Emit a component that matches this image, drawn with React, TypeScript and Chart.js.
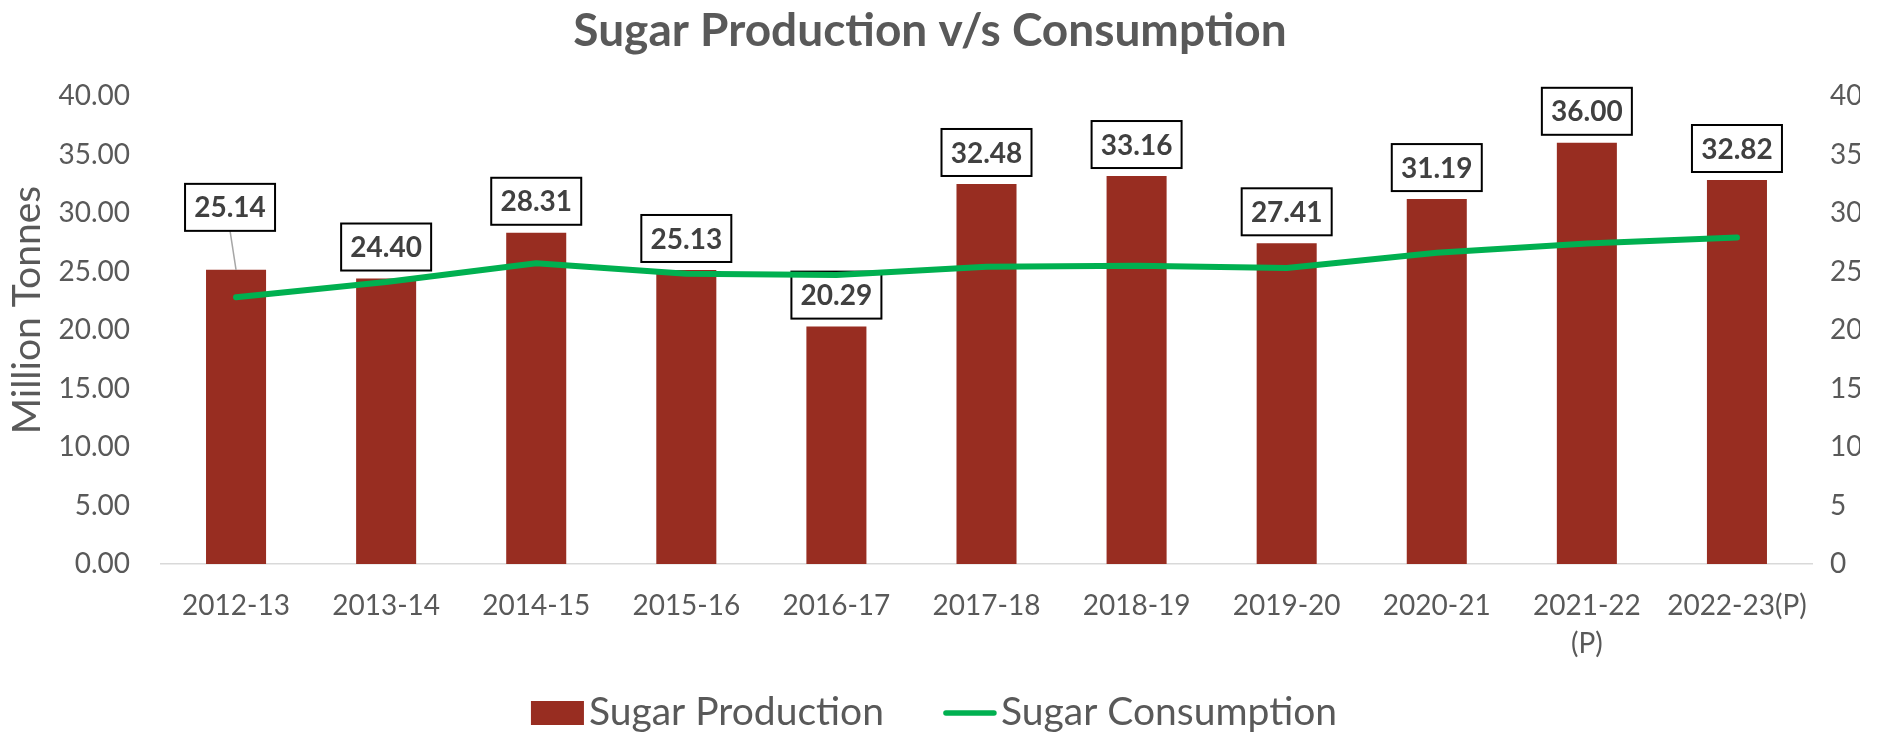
import React, { useEffect, useRef } from 'react';
import { Chart, registerables } from 'chart.js';

Chart.register(...registerables);

const seasons = ['2012-13', '2013-14', '2014-15', '2015-16', '2016-17', '2017-18', '2018-19', '2019-20', '2020-21', '2021-22\n(P)', '2022-23(P)'];
const production = [25.14, 24.40, 28.31, 25.13, 20.29, 32.48, 33.16, 27.41, 31.19, 36.00, 32.82];
const consumption = [22.8, 24.1, 25.7, 24.8, 24.7, 25.4, 25.5, 25.3, 26.6, 27.4, 27.9];
const axisMin = 0;
const axisMax = 40;
const axisStep = 5;

const TITLE = 'Sugar Production v/s Consumption';
const Y_TITLE = 'Million Tonnes';
const BAR_COLOR = '#982D21';
const LINE_COLOR = '#00B050';
const TEXT_COLOR = '#595959';
const FONT = 'Lato';

export default function App() {
  const ref = useRef<HTMLCanvasElement>(null);

  useEffect(() => {
    document.body.style.margin = '0';
    const canvas = ref.current;
    if (!canvas) return;

    const barLabels = {
      id: 'barLabels',
      afterDatasetDraw(chart: any, args: any) {
        if (args.index !== 0) return;
        const ctx = chart.ctx;
        ctx.save();
        args.meta.data.forEach((bar: any, i: number) => {
          const lifted = i === 0;
          const cx = bar.x + (lifted ? -6 : 0);
          const bottom = bar.y - (lifted ? 39 : 8);
          const w = 90;
          const h = 47;
          if (lifted) {
            ctx.strokeStyle = '#A6A6A6';
            ctx.lineWidth = 1.5;
            ctx.beginPath();
            ctx.moveTo(cx, bottom);
            ctx.lineTo(bar.x, bar.y);
            ctx.stroke();
          }
          ctx.fillStyle = '#FFFFFF';
          ctx.fillRect(cx - w / 2, bottom - h, w, h);
          ctx.lineWidth = 2;
          ctx.strokeStyle = '#000000';
          ctx.strokeRect(cx - w / 2, bottom - h, w, h);
          ctx.font = `bold 28px ${FONT}`;
          ctx.fillStyle = '#404040';
          ctx.textAlign = 'center';
          ctx.textBaseline = 'middle';
          ctx.fillText(production[i].toFixed(2), cx, bottom - h / 2 + 1);
        });
        ctx.restore();
      },
    };

    const axisTitle = {
      id: 'axisTitle',
      afterDraw(chart: any) {
        const ctx = chart.ctx;
        const area = chart.chartArea;
        ctx.save();
        ctx.translate(27.5, (area.top + area.bottom) / 2 - 20);
        ctx.rotate(-Math.PI / 2);
        ctx.font = `39px ${FONT}`;
        ctx.fillStyle = TEXT_COLOR;
        ctx.textAlign = 'center';
        ctx.textBaseline = 'middle';
        ctx.fillText(Y_TITLE, 0, 0);
        ctx.restore();
      },
    };

    const customLegend = {
      id: 'customLegend',
      afterDraw(chart: any) {
        const ctx = chart.ctx;
        const ds = chart.data.datasets;
        ctx.save();
        ctx.font = `39px ${FONT}`;
        const t1 = ctx.measureText(ds[0].label).width;
        const t2 = ctx.measureText(ds[1].label).width;
        const total = 53 + 5 + t1 + 59 + 54 + 4 + t2;
        let x = 934 - total / 2;
        const yMid = 713;
        ctx.fillStyle = ds[0].backgroundColor;
        ctx.fillRect(x, yMid - 12, 53, 24);
        x += 58;
        ctx.fillStyle = TEXT_COLOR;
        ctx.textAlign = 'left';
        ctx.textBaseline = 'alphabetic';
        ctx.fillText(ds[0].label, x, 725);
        x += t1 + 59;
        ctx.strokeStyle = ds[1].borderColor;
        ctx.lineWidth = 5.5;
        ctx.lineCap = 'round';
        ctx.beginPath();
        ctx.moveTo(x + 3, yMid);
        ctx.lineTo(x + 51, yMid);
        ctx.stroke();
        x += 58;
        ctx.fillText(ds[1].label, x, 725);
        ctx.restore();
      },
    };

    const chart = new Chart(canvas, {
      type: 'bar',
      data: {
        labels: seasons.map((s) => s.split('\n')),
        datasets: [
          {
            type: 'bar',
            label: 'Sugar Production',
            data: production,
            backgroundColor: BAR_COLOR,
            borderWidth: 0,
            categoryPercentage: 1,
            barPercentage: 0.4,
            yAxisID: 'y',
            order: 1,
          },
          {
            type: 'line',
            label: 'Sugar Consumption',
            data: consumption,
            borderColor: LINE_COLOR,
            backgroundColor: LINE_COLOR,
            borderWidth: 6,
            pointRadius: 0,
            tension: 0,
            borderCapStyle: 'round',
            borderJoinStyle: 'round',
            yAxisID: 'y1',
            order: 0,
          } as any,
        ],
      },
      options: {
        responsive: false,
        animation: false,
        devicePixelRatio: 1,
        layout: { padding: { top: 0, left: 0, right: 18, bottom: 69 } },
        plugins: {
          legend: { display: false },
          tooltip: { enabled: false },
          title: {
            display: true,
            text: TITLE,
            color: TEXT_COLOR,
            font: { family: FONT, size: 46, weight: 'bold' },
            padding: { top: 4, bottom: 36.8 },
          },
        },
        scales: {
          x: {
            grid: { display: false, drawTicks: false },
            border: { display: true, color: '#D9D9D9', width: 1.5 },
            ticks: {
              color: TEXT_COLOR,
              font: { family: FONT, size: 28, lineHeight: 1.36 },
              padding: 23,
              maxRotation: 0,
              autoSkip: false,
            },
            afterFit: (s: any) => { s.height = 100; },
          },
          y: {
            position: 'left',
            min: axisMin,
            max: axisMax,
            grid: { display: false, drawTicks: false },
            border: { display: false },
            ticks: {
              stepSize: axisStep,
              color: TEXT_COLOR,
              font: { family: FONT, size: 28 },
              padding: 31,
              callback: (v: any) => Number(v).toFixed(2),
            },
            afterFit: (s: any) => { s.width = 161; },
          },
          y1: {
            position: 'right',
            min: axisMin,
            max: axisMax,
            grid: { display: false, drawTicks: false },
            border: { display: false },
            ticks: {
              stepSize: axisStep,
              color: TEXT_COLOR,
              font: { family: FONT, size: 28 },
              padding: 18,
              callback: (v: any) => String(Math.round(Number(v))),
            },
            afterFit: (s: any) => { s.width = 48; },
          },
        },
      } as any,
      plugins: [barLabels, axisTitle, customLegend],
    });

    return () => chart.destroy();
  }, []);

  return (
    <div style={{ width: 1878, height: 733 }}>
      <canvas ref={ref} width={1878} height={733} style={{ display: 'block' }} />
    </div>
  );
}
